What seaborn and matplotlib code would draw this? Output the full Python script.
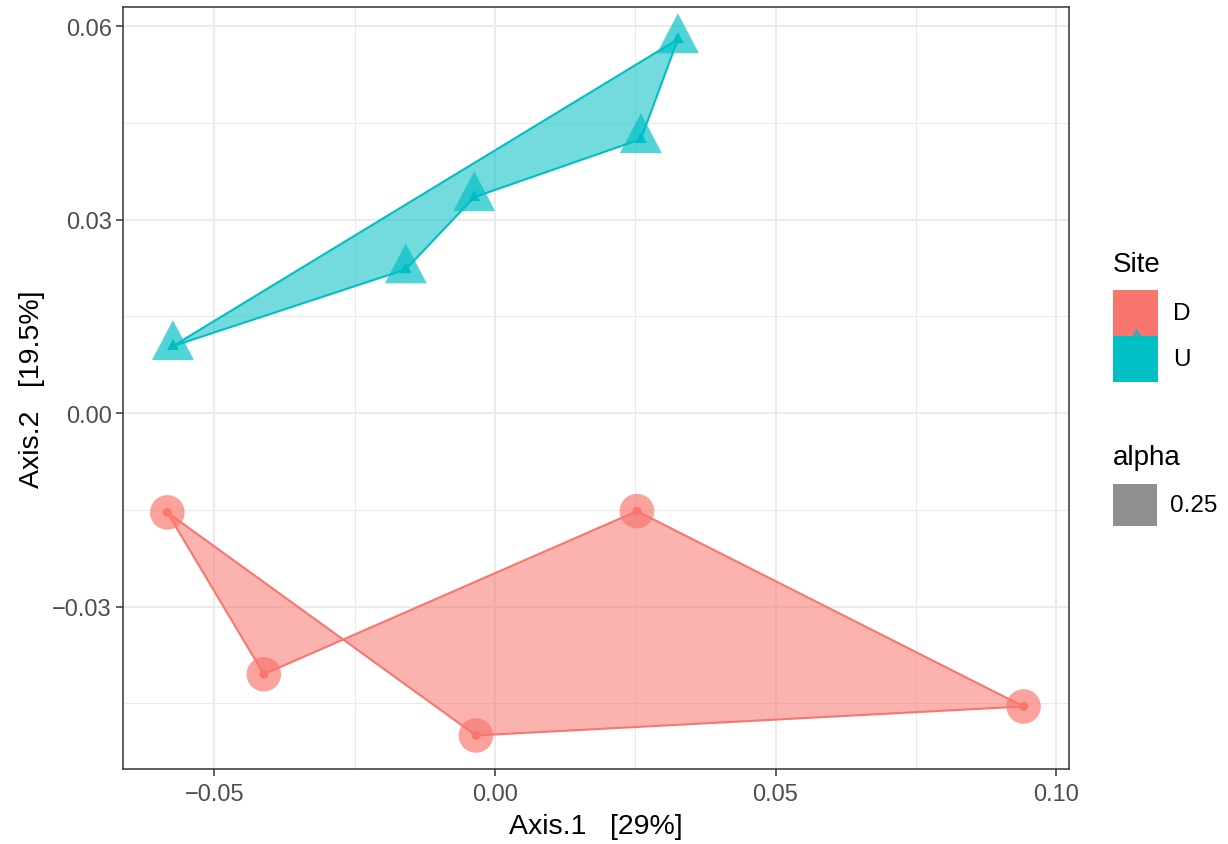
import matplotlib
matplotlib.use("Agg")
import matplotlib.pyplot as plt
import matplotlib.patches as mpatches
from matplotlib.markers import MarkerStyle
from matplotlib.path import Path
from matplotlib.ticker import MultipleLocator
import numpy as np
import pandas as pd
import seaborn as sns

# PCoA ordination coordinates per sample (polygon vertex order follows sample order)
site_d_axis1 = [-0.0584, -0.0412, 0.0253, 0.0942, -0.0034]
site_d_axis2 = [-0.0154, -0.0405, -0.0152, -0.0455, -0.0500]
site_u_axis1 = [-0.0574, -0.0159, -0.0037, 0.0260, 0.0326]
site_u_axis2 = [0.0104, 0.0223, 0.0335, 0.0425, 0.0580]

sites = ["D", "U"]
site_colors = {"D": "#F8766D", "U": "#00BFC4"}
x_ticks = [-0.05, 0.00, 0.05, 0.10]
y_ticks = [-0.03, 0.00, 0.03, 0.06]
x_tick_labels = ["\u22120.05", "0.00", "0.05", "0.10"]
y_tick_labels = ["\u22120.03", "0.00", "0.03", "0.06"]
alpha_level = "0.25"

df = pd.DataFrame({
    "Axis.1": site_d_axis1 + site_u_axis1,
    "Axis.2": site_d_axis2 + site_u_axis2,
    "Site": ["D"] * len(site_d_axis1) + ["U"] * len(site_u_axis1),
})

sns.set_theme(style="white")
plt.rcParams["font.family"] = ["Liberation Sans", "DejaVu Sans"]

W, H = 1228, 845
fig = plt.figure(figsize=(W / 100, H / 100), dpi=100)
ax = fig.add_axes([123 / W, 1 - 770 / H, (1069 - 123) / W, (770 - 8) / H])

# triangle centred on its centroid (as R's filled triangle glyph)
tri = MarkerStyle(Path([(0, 26), (-21, -14), (21, -14), (0, 26)],
                       [Path.MOVETO, Path.LINETO, Path.LINETO, Path.CLOSEPOLY]))
site_markers = {"D": "o", "U": tri}
big_size = {"D": 620, "U": 1400}
small_size = {"D": 42, "U": 110}

# theme_bw style grid
ax.set_facecolor("white")
ax.xaxis.set_minor_locator(MultipleLocator(0.025))
ax.yaxis.set_minor_locator(MultipleLocator(0.015))
ax.grid(which="major", color="#EBEBEB", linewidth=1.5, zorder=0)
ax.grid(which="minor", color="#EBEBEB", linewidth=0.75, zorder=0)
ax.set_axisbelow(True)

# hull polygons per site
for site in sites:
    sub = df[df["Site"] == site]
    pts = np.column_stack([sub["Axis.1"].to_numpy(), sub["Axis.2"].to_numpy()])
    ax.add_patch(mpatches.Polygon(pts, closed=True, facecolor=site_colors[site],
                                  alpha=0.55, edgecolor="none", zorder=2))
    ax.add_patch(mpatches.Polygon(pts, closed=True, facecolor="none",
                                  edgecolor=site_colors[site], linewidth=1.5,
                                  joinstyle="miter", zorder=3))

# large translucent markers with small solid markers on top
for site in sites:
    sub = df[df["Site"] == site]
    sns.scatterplot(data=sub, x="Axis.1", y="Axis.2", ax=ax,
                    color=site_colors[site], marker=site_markers[site],
                    s=big_size[site], alpha=0.68,
                    edgecolor="none", linewidth=0, legend=False, zorder=4)
    sns.scatterplot(data=sub, x="Axis.1", y="Axis.2", ax=ax,
                    color=site_colors[site], marker=site_markers[site],
                    s=small_size[site], alpha=1.0,
                    edgecolor="none", linewidth=0, legend=False, zorder=5)

ax.set_xlim(-0.0663, 0.1023)
ax.set_ylim(-0.0552, 0.0630)
ax.set_xticks(x_ticks)
ax.set_yticks(y_ticks)
ax.set_xticklabels(x_tick_labels)
ax.set_yticklabels(y_tick_labels)
ax.tick_params(axis="both", which="major", bottom=True, left=True, length=5,
               width=1.1, color="#333333", labelsize=17, labelcolor="#4D4D4D", pad=3)
ax.tick_params(axis="x", which="major", pad=5)
ax.tick_params(axis="both", which="minor", length=0)
for sp in ax.spines.values():
    sp.set_color("#333333")
    sp.set_linewidth(1.1)
    sp.set_visible(True)

ax.set_xlabel("Axis.1   [29%]", fontsize=20.5, color="black", labelpad=6)
ax.set_ylabel("Axis.2   [19.5%]", fontsize=20.5, color="black", labelpad=5)


# legends (positions in pixels, converted to figure fraction)
def fx(px):
    return px / W


def fy(py):
    return 1 - py / H


key_w, key_h = 45, 46
fig.text(fx(1113), fy(272), "Site", fontsize=20, color="black", va="baseline", ha="left")
for i, site in enumerate(sites):
    top = 291 + i * key_h
    fig.add_artist(mpatches.Rectangle((fx(1113), fy(top + key_h)), key_w / W, key_h / H,
                                      transform=fig.transFigure, facecolor=site_colors[site],
                                      edgecolor="none"))
    fig.text(fx(1173), fy(top + key_h / 2), site, fontsize=17.5, color="black",
             va="center", ha="left")
# point glyph peeking at the top of the U key
fig.add_artist(plt.Line2D([fx(1135.5)], [fy(334)], transform=fig.transFigure,
                          marker=tri, markersize=6, color=site_colors["U"],
                          alpha=0.6, linestyle="none"))

fig.text(fx(1113), fy(465), "alpha", fontsize=20, color="black", va="baseline", ha="left")
fig.add_artist(mpatches.Rectangle((fx(1113), fy(527)), 44 / W, 42 / H,
                                  transform=fig.transFigure, facecolor="#333333",
                                  alpha=0.55, edgecolor="none"))
fig.text(fx(1170), fy(506), alpha_level, fontsize=17.5, color="black", va="center", ha="left")

fig.savefig("out.png", dpi=100)
